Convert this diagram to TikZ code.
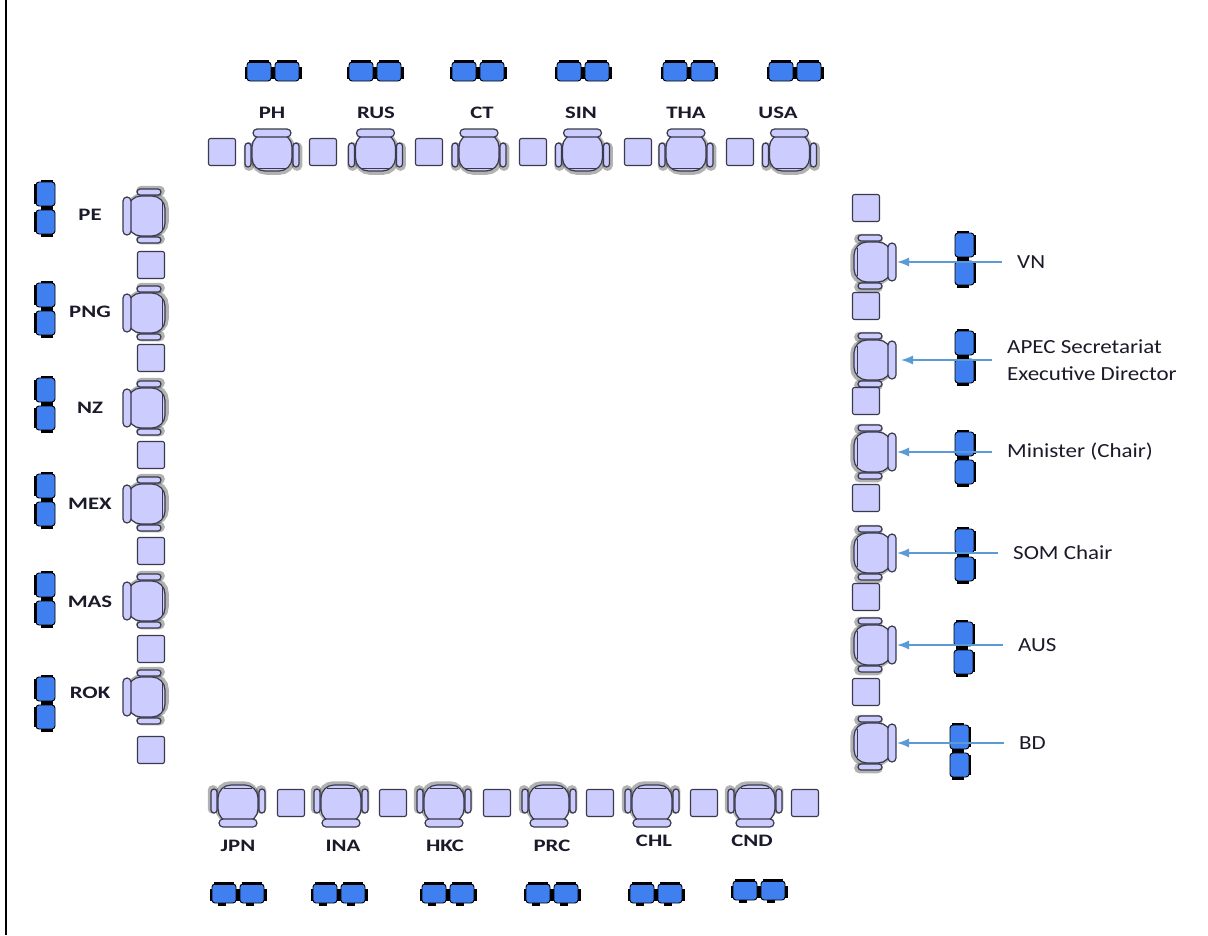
\documentclass[tikz,border=0pt]{standalone}
\usepackage{fontspec}
\setmainfont{Carlito}
\newfontfamily\codefont[FakeStretch=1.3]{Carlito}
\newfontfamily\rfont[FakeStretch=1.15]{Carlito}
\usetikzlibrary{arrows.meta}
\definecolor{lav}{HTML}{CCCCFF}
\definecolor{edgec}{HTML}{3A3A4A}
\definecolor{bluec}{HTML}{3F7FEF}
\definecolor{arrc}{HTML}{5B9BD5}
\definecolor{txt}{HTML}{1A1A2A}
\tikzset{
  cf/.style={fill=lav, draw=edgec, line width=1.2pt},
  shad/.style={draw=black, line width=4.5pt, opacity=0.3},
  sq/.style={fill=lav, draw=edgec, line width=1.1pt, rounded corners=2pt, minimum size=27pt, inner sep=0pt},
  code/.style={font=\codefont\bfseries\fontsize{17.5}{20}\selectfont, text=txt, inner sep=0pt},
  rlab/.style={font=\rfont\fontsize{20}{27}\selectfont, text=txt, align=left, anchor=west, inner sep=0pt},
  arr/.style={draw=arrc, line width=1.5pt, -{Latex[length=12pt,width=9pt]}, shorten <=15pt},
  bigchair/.pic={
    \begin{scope}[shift={(1,1.5)}]
      \draw[shad, rounded corners=13] (-20,-17) rectangle (20,20);
      \draw[shad, rounded corners=3] (-27,-8) rectangle (-21,16);
      \draw[shad, rounded corners=3] (21,-8) rectangle (27,16);
    \end{scope}
    \path[cf, rounded corners=13] (-20,-17) rectangle (20,20);
    \path[cf, rounded corners=4] (-19,-22) rectangle (19,-14);
    \path[cf, rounded corners=3] (-27,-8) rectangle (-21,16);
    \path[cf, rounded corners=3] (21,-8) rectangle (27,16);
    \draw[edgec, line width=0.8pt] (-14,17) -- (14,17);
  },
  bluepair/.pic={
    \foreach \dx in {-14,14} {
      \begin{scope}[shift={(\dx,0)}]
        \path[fill=bluec, draw=black, line width=0.9pt, rounded corners=3] (-12,-9) rectangle (12,10);
        \fill[black] (-10,-11) rectangle (10,-8.5);
        \fill[black] (-14.5,-4) rectangle (-12,8);
        \fill[black] (12,-4) rectangle (14.5,8);
      \end{scope}
    }
  },
  bluepairb/.pic={
    \foreach \dx in {-14,14} {
      \begin{scope}[shift={(\dx,0)}]
        \path[fill=bluec, draw=black, line width=0.9pt, rounded corners=3] (-12,-9) rectangle (12,10);
        \fill[black] (-10,-11) rectangle (10,-8.5);
        \fill[black] (-14.5,-4) rectangle (-12,8);
        \fill[black] (12,-4) rectangle (14.5,8);
        \fill[black] (-6,10) rectangle (2,13);
      \end{scope}
    }
  }
}
\begin{document}
\begin{tikzpicture}[x=1pt, y=-1pt]
\useasboundingbox[fill=white] (0,0) rectangle (1208,935);
\draw[line width=2pt] (6,0) -- (6,935);

% ---------- top row ----------
\foreach \cx in {272,375.5,479,582.5,686,789.5} \pic at (\cx,151) {bigchair};
\foreach \sx [count=\i] in {222,323,429,533,638,740} \node[sq] (st\i) at (\sx,152) {};
\foreach \bx in {273,375,478,583,689,795} \pic at (\bx,71) {bluepair};
\foreach \lx/\lab in {272/PH,376/RUS,482/CT,581/SIN,686/THA,778/USA}
  \node[code] (l\lab) at (\lx,113) {\lab};

% ---------- left column ----------
\foreach \cy in {216,313,408,504,601,697} \pic[rotate=90] at (145,\cy) {bigchair};
\foreach \sy [count=\i] in {265,358,455,551,649,750} \node[sq] (sl\i) at (151,\sy) {};
\foreach \by in {208,309,404,500,599,703} \pic[rotate=90] at (45,\by) {bluepair};
\foreach \ly/\lab in {215/PE,312/PNG,408/NZ,504/MEX,602/MAS,693/ROK}
  \node[code] (l\lab) at (90,\ly) {\lab};

% ---------- right column ----------
\foreach \cy in {262,360,452,553,645,743} \pic[rotate=-90] at (874,\cy) {bigchair};
\foreach \sy [count=\i] in {208,306,401,498,597,692} \node[sq] (sr\i) at (866,\sy) {};
\foreach \bx/\by in {965/259,965/357,965/458,965/555,964/648,960/751} \pic[rotate=-90] at (\bx,\by) {bluepair};

\node[rlab] (lVN) at (1017,262) {VN};
\node[rlab] (lAPEC) at (1007,360) {APEC Secretariat\\Executive Director};
\node[rlab] (lMIN) at (1007,452) {Minister (Chair)};
\node[rlab] (lSOM) at (1013,553) {SOM Chair};
\node[rlab] (lAUS) at (1018,645) {AUS};
\node[rlab] (lBD) at (1019,743) {BD};

\coordinate (tVN) at (897,262);
\coordinate (tAPEC) at (901,360);
\coordinate (tMIN) at (897,452);
\coordinate (tSOM) at (897,553);
\coordinate (tAUS) at (897,645);
\coordinate (tBD) at (897,743);

\draw[arr] (lVN.west) -- (tVN);
\draw[arr] (lAPEC.west) -- (tAPEC);
\draw[arr] (lMIN.west) -- (tMIN);
\draw[arr] (lSOM.west) -- (tSOM);
\draw[arr] (lAUS.west) -- (tAUS);
\draw[arr] (lBD.west) -- (tBD);

% ---------- bottom row ----------
\foreach \cx in {238,341,444,549,652,755} \pic[rotate=180] at (\cx,805) {bigchair};
\foreach \sx [count=\i] in {291,393,497,600,704,805} \node[sq] (sb\i) at (\sx,803) {};
\foreach \bx/\by in {238/893,339/893,448/893,552/893,656/893,759/890} \pic at (\bx,\by) {bluepairb};
\foreach \lx/\ly/\lab in {238/846/JPN,343/846/INA,445/846/HKC,552/846/PRC,654/841/CHL,752/841/CND}
  \node[code] (l\lab) at (\lx,\ly) {\lab};
\end{tikzpicture}
\end{document}
